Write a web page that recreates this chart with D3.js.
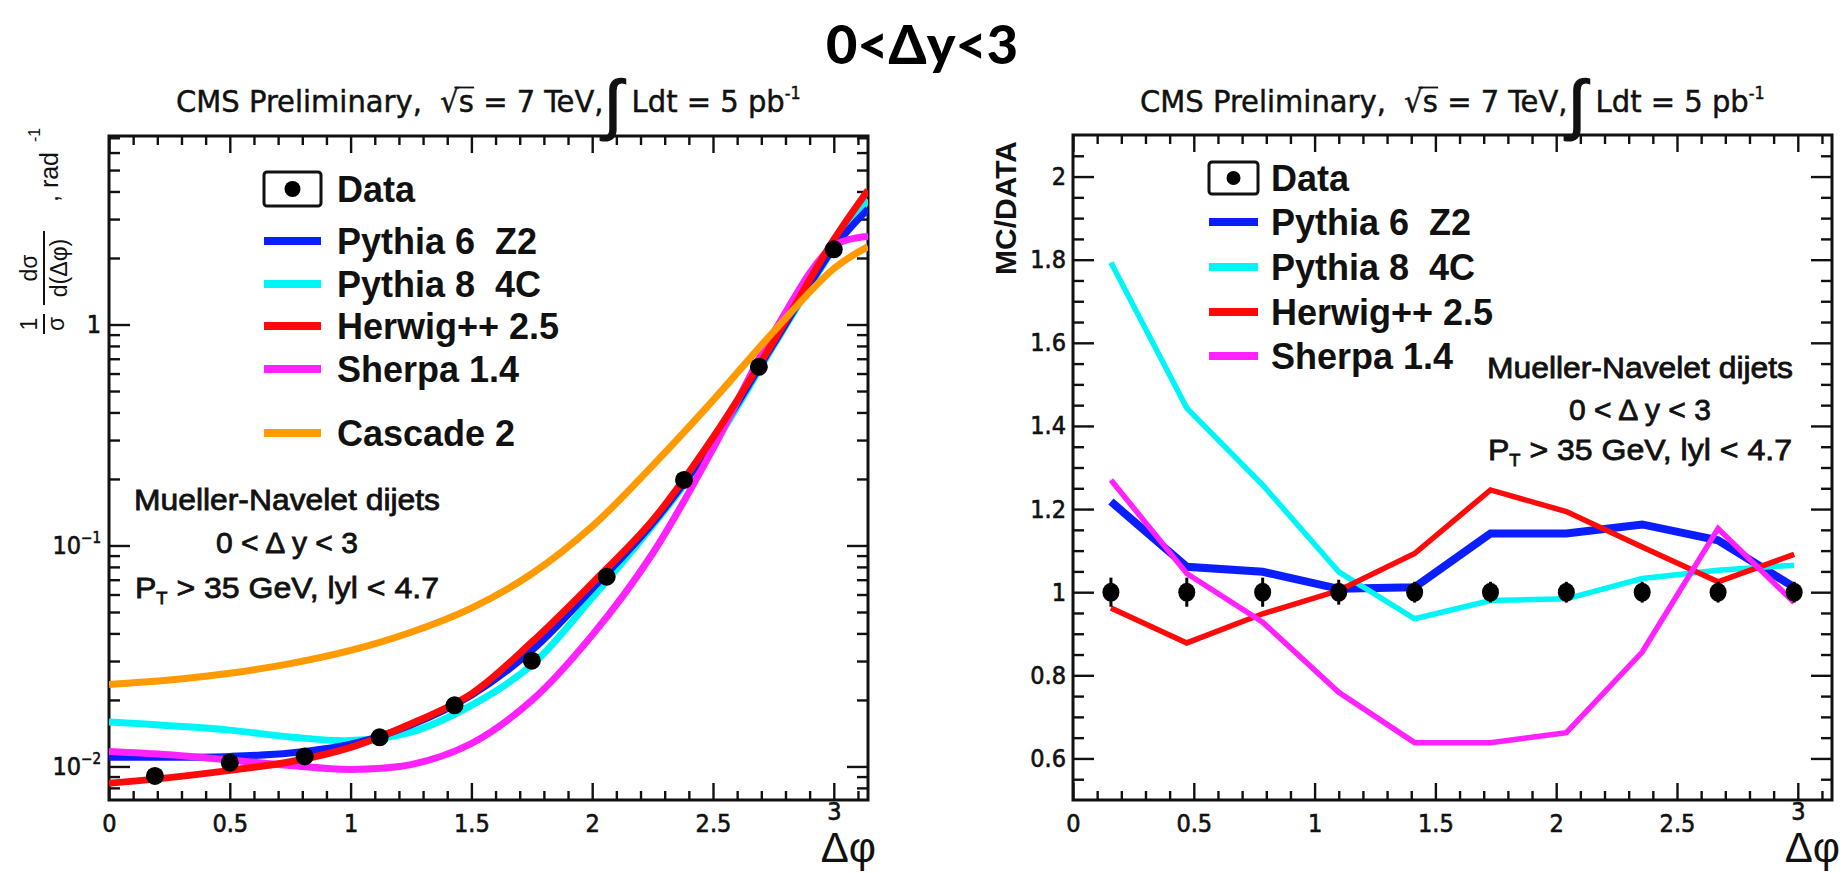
<!DOCTYPE html>
<html><head><meta charset="utf-8">
<script src="https://cdn.jsdelivr.net/npm/d3@7"></script>
<style>
body{margin:0;background:#fff;}
svg{display:block;}
text{white-space:pre;}
</style></head><body>
<svg id="c" width="1845" height="873"></svg>
<script>
// ---------------- data ----------------
// left panel: normalised distribution (smooth curves sampled at curveX)
const curveX       = [0, 0.25, 0.5, 0.75, 1.0, 1.25, 1.5, 1.75, 2.0, 2.25, 2.5, 2.75, 3.0, 3.1416];
const pythia6Curve = [0.0110,0.0110,0.0111,0.0115,0.0126,0.0154,0.0210,0.0335,0.0637,0.126,0.294,0.815,2.22,3.33];
const pythia8Curve = [0.0159,0.0153,0.0146,0.0136,0.0131,0.0143,0.0189,0.0288,0.0580,0.123,0.284,0.800,2.22,3.68];
const herwigCurve  = [0.0084,0.0089,0.0096,0.0105,0.0122,0.0156,0.0213,0.0365,0.0675,0.130,0.308,0.835,2.42,4.05];
const sherpaCurve  = [0.0117,0.0113,0.0107,0.0101,0.0097,0.0102,0.0127,0.0199,0.0393,0.092,0.274,0.915,2.27,2.50];
const cascadeCurve = [0.0235,0.0246,0.0264,0.0292,0.0335,0.0405,0.0521,0.0745,0.122,0.230,0.454,0.927,1.79,2.25];
const dataX = [0.19, 0.50, 0.81, 1.12, 1.43, 1.75, 2.06, 2.38, 2.69, 3.00];
const dataY = [0.00906, 0.0104, 0.0111, 0.01355, 0.0189, 0.0301, 0.0722, 0.198, 0.644, 2.19];

// right panel: MC / DATA ratio
const ratioX       = [0.157, 0.471, 0.785, 1.100, 1.414, 1.728, 2.042, 2.356, 2.670, 2.985];
const ratioData    = [1, 1, 1, 1, 1, 1, 1, 1, 1, 1];
const ratioErr     = [0.035, 0.035, 0.035, 0.03, 0.025, 0.025, 0.025, 0.025, 0.025, 0.025];
const ratioPythia6 = [1.218, 1.061, 1.049, 1.008, 1.012, 1.141, 1.141, 1.163, 1.125, 1.012];
const ratioPythia8 = [1.793, 1.443, 1.258, 1.049, 0.936, 0.980, 0.984, 1.033, 1.053, 1.065];
const ratioHerwig  = [0.962, 0.878, 0.948, 1.004, 1.093, 1.246, 1.194, 1.109, 1.025, 1.091];
const ratioSherpa  = [1.270, 1.045, 0.928, 0.759, 0.638, 0.638, 0.662, 0.856, 1.153, 0.975];

const xTicks      = [0, 0.5, 1, 1.5, 2, 2.5, 3];
const ratioTicks  = [0.6, 0.8, 1, 1.2, 1.4, 1.6, 1.8, 2];
const logTicks    = [0.01, 0.1, 1];
const legendNamesLeft  = ["Pythia 6  Z2", "Pythia 8  4C", "Herwig++ 2.5", "Sherpa 1.4", "Cascade 2"];
const legendNamesRight = ["Pythia 6  Z2", "Pythia 8  4C", "Herwig++ 2.5", "Sherpa 1.4"];
const infoLines = ["Mueller-Navelet dijets", "0 < \u0394 y < 3", "P|T| > 35 GeV, lyl < 4.7"];

// ---------------- style ----------------
const COL = {p6:"#0a1eff", p8:"#00f6f6", hw:"#ff0a0a", sh:"#ff22ff", cc:"#ff9a00"};
const NARROW = "'Liberation Sans Narrow','Arial Narrow','DejaVu Sans Condensed',sans-serif";
const SANS = "'Liberation Sans',Arial,Helvetica,sans-serif";
const INK = "#111";

const svg = d3.select("#c");
svg.append("rect").attr("width",1845).attr("height",873).attr("fill","#fff");

const xL = d3.scaleLinear([0, Math.PI], [109, 868]);
const yL = d3.scaleLog([0.00705, 7.13], [800, 136]);
const xR = d3.scaleLinear([0, Math.PI], [1073, 1832]);
const yR = d3.scaleLinear([0.5, 2.1], [800, 135]);

// ---------- title ----------
svg.append("text").attr("x",922).attr("y",64).attr("text-anchor","middle")
  .attr("font-family","Lato,'Open Sans',sans-serif").attr("font-weight",900)
  .attr("font-size",54).attr("fill","#000").text("0<\u0394y<3");

// ---------- header ----------
function header(x0, target){
  const g = svg.append("g");
  const t = g.append("text").attr("x",0).attr("y",112).attr("xml:space","preserve")
    .attr("font-family",NARROW).attr("font-size",31).attr("fill",INK).attr("stroke",INK).attr("stroke-width",0.45);
  t.append("tspan").text("CMS Preliminary,  ");
  t.append("tspan").text("\u221A");
  t.append("tspan").text("s");
  t.append("tspan").text(" = 7 TeV,");
  t.append("tspan").attr("font-size",66).attr("dy",15).attr("font-family",SANS).attr("stroke-width",1.2).text("\u222B");
  t.append("tspan").attr("dy",-15).text(" Ldt = 5 pb");
  t.append("tspan").attr("font-size",17).attr("dy",-13).text("-1");
  const node = t.node();
  const s = node.textContent;
  const iS = s.indexOf("\u221A");
  const a = node.getStartPositionOfChar(iS).x + node.getSubStringLength(iS,1)*0.75;
  const b = node.getStartPositionOfChar(iS+1).x + node.getSubStringLength(iS+1,1);
  g.append("line").attr("x1",a).attr("x2",b).attr("y1",87.5).attr("y2",87.5)
    .attr("stroke",INK).attr("stroke-width",1.8);
  const bb = node.getBBox();
  const k = target / bb.width;
  g.attr("transform",`translate(${x0 - bb.x*k},0) scale(${k},1)`);
}
header(176, 625);
header(1140, 625);

// ---------- axes helper ----------
function minorLin(step, lo, hi, majors){
  const out=[]; for(let v=lo; v<=hi+1e-9; v+=step){ const r=Math.round(v*1000)/1000; if(!majors.some(m=>Math.abs(m-r)<1e-6)) out.push(r);} return out;
}
function styleTicks(g){ g.select(".domain").remove(); g.selectAll("line").attr("stroke",INK).attr("stroke-width",2.4); }

function frameAxes(x, y, yMajor, yMinor, yFmt, yPad){
  const [x0,x1] = x.range(), [yb,yt] = y.range();
  const xMinor = minorLin(0.1, 0.1, 3.1, xTicks);
  // bottom
  svg.append("g").attr("transform",`translate(0,${yb})`)
    .call(d3.axisBottom(x).tickValues(xTicks).tickSizeInner(-17).tickSizeOuter(0).tickPadding(14).tickFormat(d3.format("~g")))
    .call(styleTicks)
    .call(g=>g.selectAll("text").attr("font-family",NARROW).attr("font-size",25).attr("fill",INK)
       .attr("stroke",INK).attr("stroke-width",0.6)
       .attr("y",d=> d===3 ? 2 : 14));
  svg.append("g").attr("transform",`translate(0,${yb})`)
    .call(d3.axisBottom(x).tickValues(xMinor).tickSizeInner(-9).tickSizeOuter(0).tickFormat(""))
    .call(styleTicks);
  // top
  svg.append("g").attr("transform",`translate(0,${yt})`)
    .call(d3.axisTop(x).tickValues(xTicks).tickSizeInner(-17).tickSizeOuter(0).tickFormat("")).call(styleTicks);
  svg.append("g").attr("transform",`translate(0,${yt})`)
    .call(d3.axisTop(x).tickValues(xMinor).tickSizeInner(-9).tickSizeOuter(0).tickFormat("")).call(styleTicks);
  // left
  const gl = svg.append("g").attr("transform",`translate(${x0},0)`)
    .call(d3.axisLeft(y).tickValues(yMajor).tickSizeInner(-21).tickSizeOuter(0).tickPadding(yPad).tickFormat(yFmt))
    .call(styleTicks)
    .call(g=>g.selectAll("text").attr("font-family",NARROW).attr("font-size",25).attr("fill",INK)
       .attr("stroke",INK).attr("stroke-width",0.6));
  svg.append("g").attr("transform",`translate(${x0},0)`)
    .call(d3.axisLeft(y).tickValues(yMinor).tickSizeInner(-11).tickSizeOuter(0).tickFormat("")).call(styleTicks);
  // right
  svg.append("g").attr("transform",`translate(${x1},0)`)
    .call(d3.axisRight(y).tickValues(yMajor).tickSizeInner(-21).tickSizeOuter(0).tickFormat("")).call(styleTicks);
  svg.append("g").attr("transform",`translate(${x1},0)`)
    .call(d3.axisRight(y).tickValues(yMinor).tickSizeInner(-11).tickSizeOuter(0).tickFormat("")).call(styleTicks);
  // frame
  svg.append("rect").attr("x",x0).attr("y",yt).attr("width",x1-x0).attr("height",yb-yt)
    .attr("fill","none").attr("stroke",INK).attr("stroke-width",3);
  // axis title
  svg.append("text").attr("x",x1+8).attr("y",862).attr("text-anchor","end")
    .attr("font-family",SANS).attr("font-size",42).attr("fill",INK).text("\u0394\u03C6");
  return gl;
}

// log minor ticks
const logMinor=[]; [0.001,0.01,0.1,1].forEach(d=>{for(let m=2;m<=9;m++){const v=m*d; if(v>=0.00705&&v<=7.13) logMinor.push(v);} });
const glL = frameAxes(xL, yL, logTicks, logMinor, d=> d>=1 ? "1" : "10", 8);
glL.selectAll(".tick text").each(function(d){
  if(d<1){ d3.select(this).append("tspan").attr("dy","-0.75em").attr("font-size",15).text(d3.format("d")(Math.round(Math.log10(d)))); }
});
const ratioMinor = minorLin(0.05, 0.55, 2.05, ratioTicks.concat([0.5]));
frameAxes(xR, yR, ratioTicks, ratioMinor, d=>d3.format("~g")(d), 7);

// ---------- left panel curves ----------
svg.append("clipPath").attr("id","clipL").append("rect").attr("x",109).attr("y",136).attr("width",759).attr("height",664);
const lineL = d3.line().x((d,i)=>xL(curveX[i])).y(d=>yL(d)).curve(d3.curveCatmullRom.alpha(0.5));
const gL = svg.append("g").attr("clip-path","url(#clipL)");
[[pythia8Curve,COL.p8],[pythia6Curve,COL.p6],[sherpaCurve,COL.sh],[herwigCurve,COL.hw],[cascadeCurve,COL.cc]].forEach(([arr,c])=>{
  gL.append("path").attr("d",lineL(arr)).attr("fill","none").attr("stroke",c).attr("stroke-width",7).attr("stroke-linejoin","round");
});
gL.selectAll("circle.pt").data(dataY).join("circle").attr("cx",(d,i)=>xL(dataX[i])).attr("cy",d=>yL(d)).attr("r",9).attr("fill","#000");

// ---------- right panel lines ----------
const lineR = d3.line().x((d,i)=>xR(ratioX[i])).y(d=>yR(d));
const gR = svg.append("g");
[[ratioPythia6,COL.p6,8],[ratioPythia8,COL.p8,5.5],[ratioHerwig,COL.hw,5.5],[ratioSherpa,COL.sh,5.5]].forEach(([arr,c,w])=>{
  gR.append("path").attr("d",lineR(arr)).attr("fill","none").attr("stroke",c).attr("stroke-width",w).attr("stroke-linejoin","miter");
});
gR.selectAll("line.err").data(ratioData).join("line").attr("x1",(d,i)=>xR(ratioX[i])).attr("x2",(d,i)=>xR(ratioX[i]))
  .attr("y1",(d,i)=>yR(d+ratioErr[i])).attr("y2",(d,i)=>yR(d-ratioErr[i])).attr("stroke","#000").attr("stroke-width",3);
gR.selectAll("ellipse.pt").data(ratioData).join("ellipse").attr("cx",(d,i)=>xR(ratioX[i])).attr("cy",d=>yR(d)).attr("rx",8.5).attr("ry",9.5).attr("fill","#000");

// ---------- legends ----------
function legend(bx, by, bw, bh, dotR, dataTextX, rows, names, cols, fs){
  svg.append("rect").attr("x",bx).attr("y",by).attr("width",bw).attr("height",bh).attr("rx",3)
    .attr("fill","none").attr("stroke",INK).attr("stroke-width",3);
  svg.append("circle").attr("cx",bx+bw/2).attr("cy",by+bh/2).attr("r",dotR).attr("fill","#000");
  svg.append("text").attr("x",dataTextX).attr("y",by+bh/2+13).attr("font-family",SANS).attr("font-weight","bold")
    .attr("font-size",fs).attr("fill",INK).text("Data");
  names.forEach((n,i)=>{
    svg.append("line").attr("x1",bx).attr("x2",bx+bw).attr("y1",rows[i]).attr("y2",rows[i])
      .attr("stroke",cols[i]).attr("stroke-width",8);
    svg.append("text").attr("x",dataTextX).attr("y",rows[i]+13).attr("font-family",SANS).attr("font-weight","bold")
      .attr("font-size",fs).attr("fill",INK).attr("xml:space","preserve").text(n);
  });
}
legend(264, 172, 57, 34, 8, 337, [241, 284, 326, 369, 433], legendNamesLeft, [COL.p6,COL.p8,COL.hw,COL.sh,COL.cc], 36);
legend(1209, 162, 49, 32, 7, 1271, [222, 267, 312, 356], legendNamesRight, [COL.p6,COL.p8,COL.hw,COL.sh], 36);

// ---------- info text ----------
function info(cx, ys){
  infoLines.forEach((s,i)=>{
    const t = svg.append("text").attr("x",cx).attr("y",ys[i]).attr("text-anchor","middle")
      .attr("font-family",SANS).attr("font-size",30).attr("fill",INK).attr("stroke",INK).attr("stroke-width",0.8);
    if(s.startsWith("P|T|")){
      t.append("tspan").text("P");
      t.append("tspan").attr("font-size",17).attr("dy",6).text("T");
      t.append("tspan").attr("dy",-6).text(" > 35 GeV, lyl < 4.7");
      t.attr("textLength",304).attr("lengthAdjust","spacingAndGlyphs");
    } else {
      t.text(s);
      if(i===0) t.attr("textLength",306).attr("lengthAdjust","spacingAndGlyphs");
    }
  });
}
info(287, [510, 553, 598]);
info(1640, [378, 420, 460]);

// ---------- y-axis titles ----------
(function(){
  const g = svg.append("g").attr("transform","translate(52,238) rotate(-90)").attr("font-family",SANS).attr("fill",INK);
  g.append("text").attr("x",-86).attr("y",-15).attr("text-anchor","middle").attr("font-size",23).text("1");
  g.append("line").attr("x1",-96).attr("x2",-76).attr("y1",-8).attr("y2",-8).attr("stroke",INK).attr("stroke-width",2);
  g.append("text").attr("x",-86).attr("y",12).attr("text-anchor","middle").attr("font-size",23).text("\u03C3");
  g.append("text").attr("x",-30).attr("y",-15).attr("text-anchor","middle").attr("font-size",23).text("d\u03C3");
  g.append("line").attr("x1",-67).attr("x2",7).attr("y1",-8).attr("y2",-8).attr("stroke",INK).attr("stroke-width",2);
  g.append("text").attr("x",-30).attr("y",15).attr("text-anchor","middle").attr("font-size",23).text("d(\u0394\u03C6)");
  g.append("text").attr("x",36).attr("y",6).attr("font-size",25).text(", rad");
  g.append("text").attr("x",96).attr("y",-12).attr("font-size",16).text("-1");
})();
svg.append("text").attr("transform","translate(1016,208) rotate(-90)").attr("text-anchor","middle")
  .attr("font-family",SANS).attr("font-weight","bold").attr("font-size",30).attr("fill",INK).text("MC/DATA");
</script>
</body></html>
